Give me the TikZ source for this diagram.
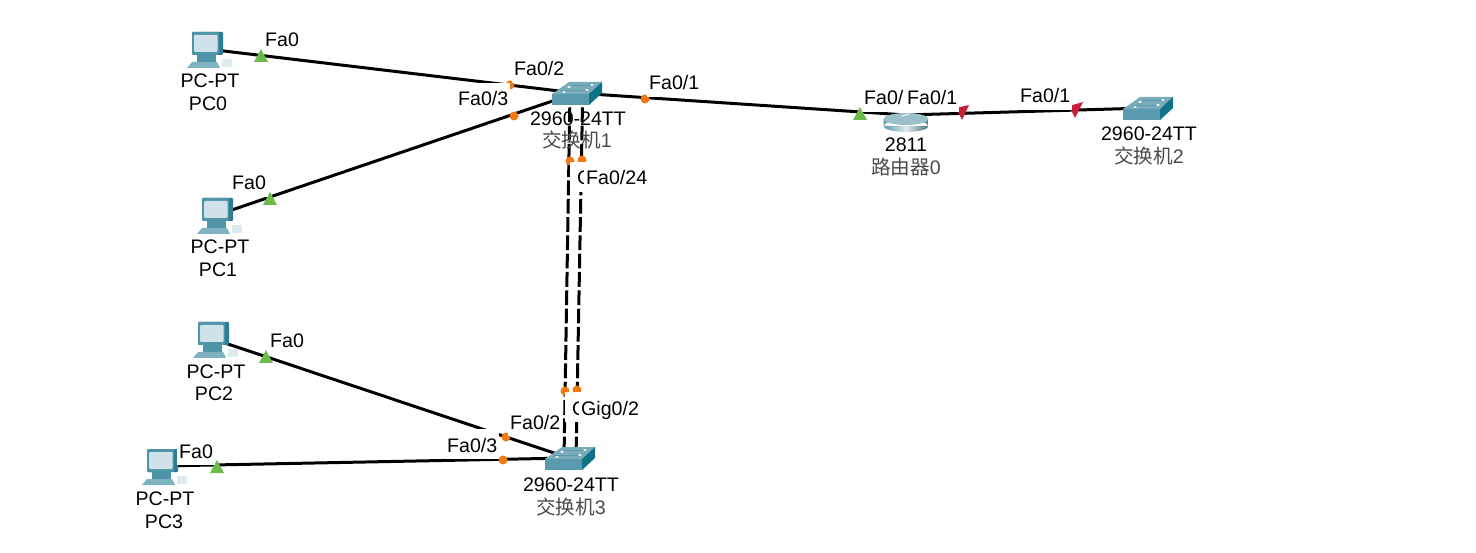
\documentclass[tikz,border=0pt]{standalone}
\usepackage{fontspec}
\setmainfont{Liberation Sans}
\newfontfamily\cjk{Noto Sans CJK SC}
\definecolor{swfront}{HTML}{5A9AAE}
\definecolor{swtop}{HTML}{79ABB9}
\definecolor{swside}{HTML}{0F7388}
\definecolor{pcbody}{HTML}{4F93A7}
\definecolor{pcdark}{HTML}{2A7C92}
\definecolor{pcscreen}{HTML}{CFE2E9}
\definecolor{pckey}{HTML}{7FB3C1}
\definecolor{greenmark}{HTML}{6CBB4B}
\definecolor{redmark}{HTML}{C8203A}
\definecolor{orangemark}{HTML}{F07A10}
\definecolor{cjkgray}{HTML}{4A4A4A}
\tikzset{
  labelfont/.style={font=\fontsize{19.6}{23}\selectfont},
  portlbl/.style={labelfont,anchor=base west,fill=white,inner xsep=2pt,inner ysep=0pt,text height=23pt,text depth=7pt},
  devlbl/.style={labelfont,anchor=base,inner sep=0pt,text=black},
  devname/.style={labelfont,anchor=base,inner sep=0pt,text=cjkgray},
  devnode/.style={inner sep=0pt,minimum size=1pt},
  cable/.style={line width=3pt,black},
  xcable/.style={cable,dash pattern=on 14.8pt off 3.5pt,dash phase=4pt},
  upmark/.style={fill=greenmark},
  downmark/.style={fill=redmark},
  dotmark/.style={fill=orangemark},
  pics/switchicon/.style={code={
    \fill[swfront] (-24,1) rectangle (13,12);
    \fill[swtop] (-24,1) -- (13,1) -- (26,-11) -- (-7,-11) -- cycle;
    \fill[swside] (13,1) -- (26,-11) -- (26,0) -- (13,12) -- cycle;
    \foreach \p in {(-12,-1),(-7,-6),(11,-3),(16,-8)} \fill[white] \p ellipse (1.8 and 1);
    \draw[swfront,line width=.7pt] (-15,-3) -- (8,-3) (-4,-8) -- (14,-8);
  }},
  pics/routericon/.style={code={
    \shade[left color=swfront,right color=swfront!75!black,middle color=white!80!swfront]
      (-22.5,4) rectangle (22.5,11) (0,11) ellipse (22.5 and 6);
    \fill[swtop!75!white] (0,4) ellipse (22.5 and 6);
    \draw[white,line width=1pt] (-4,1) -- (3,-1);
  }},
  pics/pcicon/.style={code={
    \fill[pcdark,rounded corners=1pt] (-15,-17) rectangle (16,6);
    \fill[pcbody,rounded corners=1pt] (-15,-17) rectangle (12,6);
    \fill[pcscreen,rounded corners=1pt] (-13,-14) rectangle (10.5,3);
    \fill[pcbody] (-10,6) rectangle (9,13);
    \fill[pckey] (-20,19) -- (13,19) -- (10,13) -- (-15,13) -- cycle;
    \fill[pcscreen!70!white] (15,10) rectangle (25,18);
  }}
}
\begin{document}
\begin{tikzpicture}[x=1pt,y=-1pt]
\useasboundingbox[fill=white] (0,0) rectangle (1476,553);
% device anchors
\node[devnode] (pc0) at (207,49) {};
\node[devnode] (pc1) at (217,215) {};
\node[devnode] (pc2) at (213,339) {};
\node[devnode] (pc3) at (162,466) {};
\node[devnode] (sw1) at (576,93) {};
\node[devnode] (sw3) at (569,458) {};
\node[devnode] (sw2) at (1147,108) {};
\node[devnode] (r0) at (906,115) {};
\coordinate (sw1a) at (570,93);
\coordinate (sw1b) at (582.7,93);
\coordinate (sw3a) at (564,459);
\coordinate (sw3b) at (576,459);
% connectors
\draw[cable] (pc0.center) -- (sw1.center);
\draw[cable] (pc1.center) -- (sw1.center);
\draw[cable] (pc2.center) -- (sw3.center);
\draw[cable] (pc3.center) -- (sw3.center);
\draw[cable] (sw1.center) -- (r0.center);
\draw[cable] (r0.center) -- (sw2.center);
\draw[xcable] (sw1a) -- (sw3a);
\draw[xcable] (sw1b) -- (sw3b);
% icons
\pic at (pc0) {pcicon};
\pic at (pc1) {pcicon};
\pic at (pc2) {pcicon};
\pic at (pc3) {pcicon};
\pic at (sw1) {switchicon};
\pic at (sw3) {switchicon};
\pic at (sw2) {switchicon};
\pic at (r0) {routericon};
% link markers
\fill[upmark] (261,49) -- (268,62) -- (254,62) -- cycle;
\fill[upmark] (270,192) -- (277,205) -- (263,205) -- cycle;
\fill[upmark] (266,350) -- (273,363) -- (259,363) -- cycle;
\fill[upmark] (217,460) -- (224,473) -- (210,473) -- cycle;
\fill[upmark] (860,107) -- (867,120) -- (853,120) -- cycle;
\fill[downmark] (962,120) -- (956,108) -- (969,105) -- cycle;
\fill[downmark] (1075,118) -- (1069,106) -- (1083,102) -- cycle;
\fill[dotmark] (510,85) circle (4.5);
\fill[dotmark] (514,116) circle (4.5);
\fill[dotmark] (645,99) circle (4.5);
\fill[dotmark] (570,161) circle (4.5);
\fill[dotmark] (582,160) circle (4.5);
\fill[dotmark] (565,391) circle (4.5);
\fill[dotmark] (577,390) circle (4.5);
\fill[dotmark] (506,437) circle (4.5);
\fill[dotmark] (503,460) circle (4.5);
% device labels
\node[devlbl] (pc0t) at (210,88) {PC-PT};
\node[devlbl] (pc0n) at (208,111) {PC0};
\node[devlbl] (pc1t) at (220,254) {PC-PT};
\node[devlbl] (pc1n) at (218,277) {PC1};
\node[devlbl] (pc2t) at (216,378) {PC-PT};
\node[devlbl] (pc2n) at (214,401) {PC2};
\node[devlbl] (pc3t) at (165,505) {PC-PT};
\node[devlbl] (pc3n) at (164,528) {PC3};
\node[devlbl] (sw1t) at (578,126) {2960-24TT};
\node[devname] (sw1n) at (577,148) {{\cjk 交换机}1};
\node[devlbl] (sw3t) at (571,491) {2960-24TT};
\node[devname] (sw3n) at (571,514) {{\cjk 交换机}3};
\node[devlbl] (sw2t) at (1149,141) {2960-24TT};
\node[devname] (sw2n) at (1149,164) {{\cjk 交换机}2};
\node[devlbl] (r0t) at (906,152) {2811};
\node[devname] (r0n) at (906,175) {{\cjk 路由器}0};
% port labels
\node[portlbl] (p1) at (263,47) {Fa0};
\node[portlbl] (p2) at (230,190) {Fa0};
\node[portlbl] (p3) at (268,348) {Fa0};
\node[portlbl] (p4) at (177,458) {Fa0};
\node[portlbl] (p5) at (512,76) {Fa0/2};
\node[portlbl] (p6) at (456,106) {Fa0/3};
\node[portlbl] (p7) at (647,90) {Fa0/1};
\node[portlbl] (p8) at (862,105) {Fa0/};
\node[portlbl] (p9) at (905,105) {Fa0/1};
\node[portlbl] (p10) at (1018,103) {Fa0/1};
\node[portlbl] (p11) at (569.5,185) {\hspace{5.5pt}G};
\node[portlbl] (p12) at (584,185) {Fa0/24};
\node[portlbl] (p13) at (565,415) {\hspace{5pt}G};
\node[portlbl] (p14) at (579,415) {Gig0/2};
\node[portlbl] (p15) at (445,452) {Fa0/3};
\node[portlbl] (p16) at (508,429) {Fa0/2};
\end{tikzpicture}
\end{document}
